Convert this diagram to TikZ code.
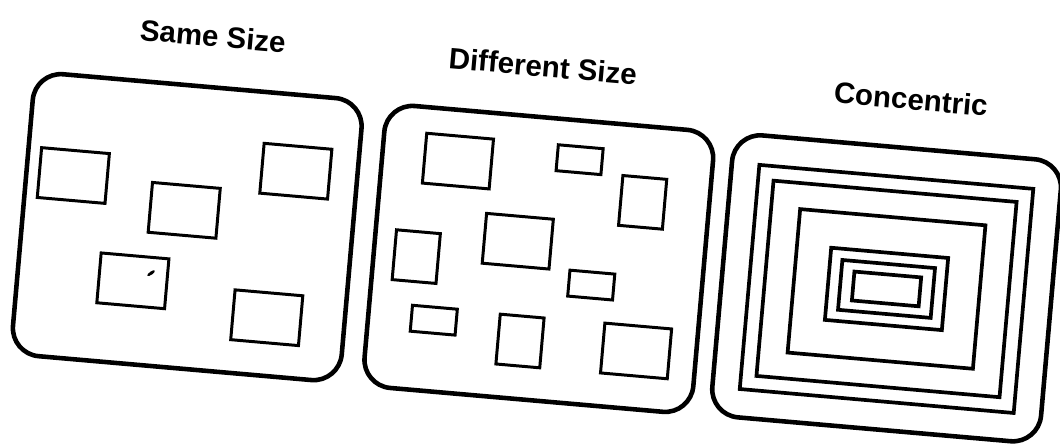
\documentclass[tikz,border=0pt]{standalone}
\usepackage{fontspec}
\setmainfont{Liberation Sans}
\tikzset{
  plate/frame/.style={black, line width=2.6pt, rounded corners=16pt},
  plate/box/.style={black, line width=1.7pt},
  plate/ring/.style={black, line width=2.1pt},
  plate/title/.style={font=\bfseries\fontsize{16.8}{20}\selectfont, inner sep=0pt, transform shape}
}

\begin{document}
\begin{tikzpicture}[x=0.02cm, y=0.02cm]
  \useasboundingbox (0,0) rectangle (1060,444);
\begin{scope}[shift={(530,222)}, rotate=-5]
\node[plate/title] (same) at (-332,157.7) {Same Size};
\node[plate/title] (different) at (-0.7,156.5) {Different Size};
\node[plate/title] (concentric) at (368.8,155.7) {Concentric};
\draw[plate/frame] (-506,-176.5) rectangle (-176,106.5);
\draw[plate/frame] (-153,-177.5) rectangle (177,105.5);
\draw[plate/frame] (196,-176.5) rectangle (526,106.5);
\draw[plate/box] (-459,6.5) +(-34,-25) rectangle +(34,25);
\draw[plate/box] (-345.5,-18.5) +(-34,-25) rectangle +(34,25);
\draw[plate/box] (-237.7,30.2) +(-34,-25) rectangle +(34,25);
\draw[plate/box] (-390.5,-93.2) +(-34,-25) rectangle +(34,25);
\draw[plate/box] (-253.9,-118.3) +(-34,-25) rectangle +(34,25);
\fill[rotate around={40:(-373,-84)}] (-373,-84) ellipse (4.5 and 1.6);
\draw[plate/box] (-77.1,54.4) +(-33.5,-25) rectangle +(33.5,25);
\draw[plate/box] (-10.5,-20.2) +(-33.5,-25) rectangle +(33.5,25);
\draw[plate/box] (116.9,-119.2) +(-33.5,-25) rectangle +(33.5,25);
\draw[plate/box] (110.5,29.4) +(-22,-25) rectangle +(22,25);
\draw[plate/box] (-110.3,-44.4) +(-22,-25) rectangle +(22,25);
\draw[plate/box] (0.4,-119.4) +(-22,-25) rectangle +(22,25);
\draw[plate/box] (44,66.4) +(-22.5,-13) rectangle +(22.5,13);
\draw[plate/box] (66.5,-57.5) +(-22.5,-13) rectangle +(22.5,13);
\draw[plate/box] (-87.3,-106.2) +(-22.5,-13) rectangle +(22.5,13);
\draw[plate/ring] (361,-35.6) +(-137.5,-112.5) rectangle +(137.5,112.5);
\draw[plate/ring] (361,-35.6) +(-122,-98) rectangle +(122,98);
\draw[plate/ring] (361,-35.6) +(-93,-72) rectangle +(93,72);
\draw[plate/ring] (361,-35.6) +(-58.7,-36.2) rectangle +(58.7,36.2);
\draw[plate/ring] (361,-35.6) +(-46.5,-25) rectangle +(46.5,25);
\draw[plate/ring] (361,-35.6) +(-33.5,-14.5) rectangle +(33.5,14.5);
\end{scope}
\end{tikzpicture}
\end{document}
